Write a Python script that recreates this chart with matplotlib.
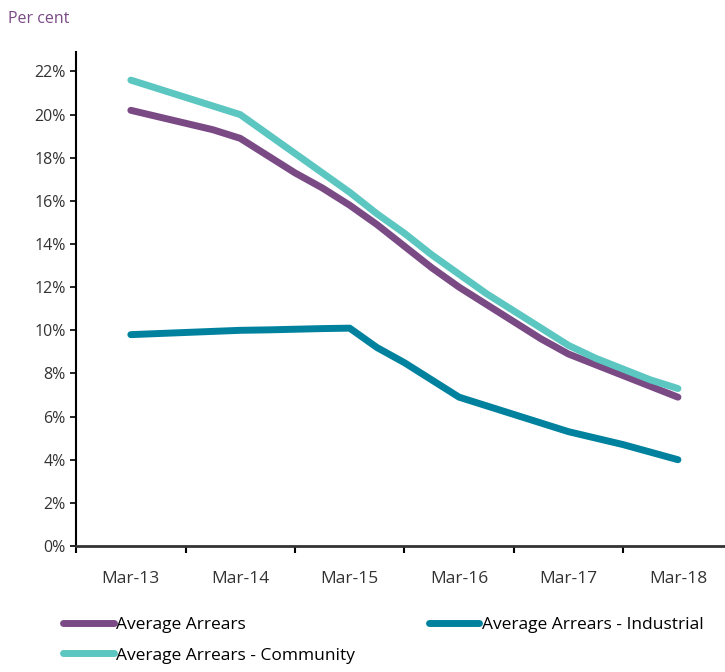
import matplotlib.pyplot as plt
from matplotlib.ticker import FixedLocator

# quarterly observations, Mar-13 .. Mar-18
years = ["Mar-13", "Mar-14", "Mar-15", "Mar-16", "Mar-17", "Mar-18"]

average = [20.2, 19.9, 19.6, 19.3, 18.9, 18.1, 17.3, 16.6, 15.8, 14.9, 13.9,
           12.9, 12.0, 11.2, 10.4, 9.6, 8.9, 8.4, 7.9, 7.4, 6.9]
industrial = [9.8, 9.85, 9.9, 9.95, 10.0, 10.02, 10.05, 10.08, 10.1, 9.2, 8.5,
              7.7, 6.9, 6.5, 6.1, 5.7, 5.3, 5.0, 4.7, 4.35, 4.0]
community = [21.6, 21.2, 20.8, 20.4, 20.0, 19.1, 18.2, 17.3, 16.4, 15.4, 14.5,
             13.5, 12.6, 11.7, 10.9, 10.1, 9.3, 8.7, 8.2, 7.7, 7.3]

c_avg = "#7a4a85"
c_ind = "#00829e"
c_com = "#5cc6c0"

plt.rcParams['font.family'] = ['Open Sans', 'DejaVu Sans']

fig = plt.figure(figsize=(7.25, 6.72), dpi=100)
ax = fig.add_axes([0.105, 0.1875, 0.895, 0.735])

xs = [i / 4 for i in range(len(average))]
l1, = ax.plot(xs, average, color=c_avg, lw=5, solid_capstyle="round")
l2, = ax.plot(xs, industrial, color=c_ind, lw=5, solid_capstyle="round")
l3, = ax.plot(xs, community, color=c_com, lw=5, solid_capstyle="round")

ax.set_xlim(-0.5, 5.43)
ax.set_ylim(0, 22.9)
ax.set_yticks(range(0, 23, 2))
ax.set_yticklabels([f"{v}%" for v in range(0, 23, 2)])

# ticks between categories, labels at the centres
ax.xaxis.set_major_locator(FixedLocator([i - 0.5 for i in range(6)]))
ax.xaxis.set_minor_locator(FixedLocator(range(6)))
ax.set_xticklabels([""] * 6)
ax.set_xticklabels(years, minor=True)
ax.tick_params(axis="x", which="minor", length=0, pad=18, labelsize=12.5, labelcolor="#333333")
ax.tick_params(axis="x", which="major", length=5, width=1.5, direction="out")
ax.tick_params(axis="y", length=4, width=1.2, labelsize=11.5, labelcolor="#333333")

for s in ["top", "right"]:
    ax.spines[s].set_visible(False)
ax.spines["left"].set_linewidth(1.5)
ax.spines["bottom"].set_linewidth(2)
ax.spines["bottom"].set_color("#333333")

fig.text(0.011, 0.966, "Per cent", color="#7a4a85", fontsize=11.5)

kw = dict(loc="upper left", frameon=False, fontsize=12.5, handlelength=2.9,
          handletextpad=0.15, labelspacing=0.85, borderaxespad=0)
fig.legend([l1, l3], ["Average Arrears", "Average Arrears - Community"],
           bbox_to_anchor=(0.078, 0.093), **kw)
fig.legend([l2], ["Average Arrears - Industrial"],
           bbox_to_anchor=(0.582, 0.093), **kw)

fig.savefig("out.png", dpi=100)
